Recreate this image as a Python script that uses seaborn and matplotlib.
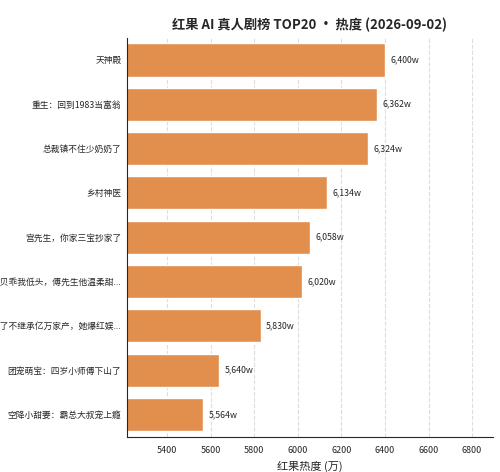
import matplotlib
matplotlib.use("Agg")
import matplotlib.pyplot as plt
import seaborn as sns
import pandas as pd

titles = ["天神殿", "重生：回到1983当富翁", "总裁镇不住少奶奶了", "乡村神医",
          "宫先生，你家三宝抄家了", "宝贝乖我低头，傅先生他温柔甜...",
          "为了不继承亿万家产，她爆红娱...", "团宠萌宝：四岁小师傅下山了",
          "空降小甜妻：霸总大叔宠上瘾"]
heat = [6400, 6362, 6324, 6134, 6058, 6020, 5830, 5640, 5564]
xticks = [5400, 5600, 5800, 6000, 6200, 6400, 6600, 6800]

sns.set_style("white")
plt.rcParams['font.family'] = ['Noto Sans CJK SC', 'DejaVu Sans']

df = pd.DataFrame({"title": titles, "heat": heat})
fig, ax = plt.subplots(figsize=(5, 4.72), dpi=100)
sns.barplot(data=df, y="title", x="heat", color="#E28F4E", saturation=1, width=0.75, ax=ax)
ax.set_xlim(5216, 6896)
ax.set_xticks(xticks)
ax.tick_params(axis="x", labelsize=6.5)
ax.tick_params(axis="y", labelsize=6.3, length=2, pad=2)
ax.set_ylabel("")
ax.set_xlabel("红果热度 (万)", fontsize=8)
ax.xaxis.grid(True, linestyle="--", color="#dddddd", linewidth=0.8)
ax.set_axisbelow(True)
sns.despine(ax=ax)
for i, v in enumerate(heat):
    ax.text(v + 25, i, f"{v:,}w", va="center", fontsize=6.3)
ax.set_title("红果 AI 真人剧榜 TOP20 • 热度 (2026-09-02)", fontsize=9.5, fontweight="bold")
fig.subplots_adjust(left=0.254, right=0.986, top=0.92, bottom=0.075)
fig.savefig("out.png", dpi=100)
